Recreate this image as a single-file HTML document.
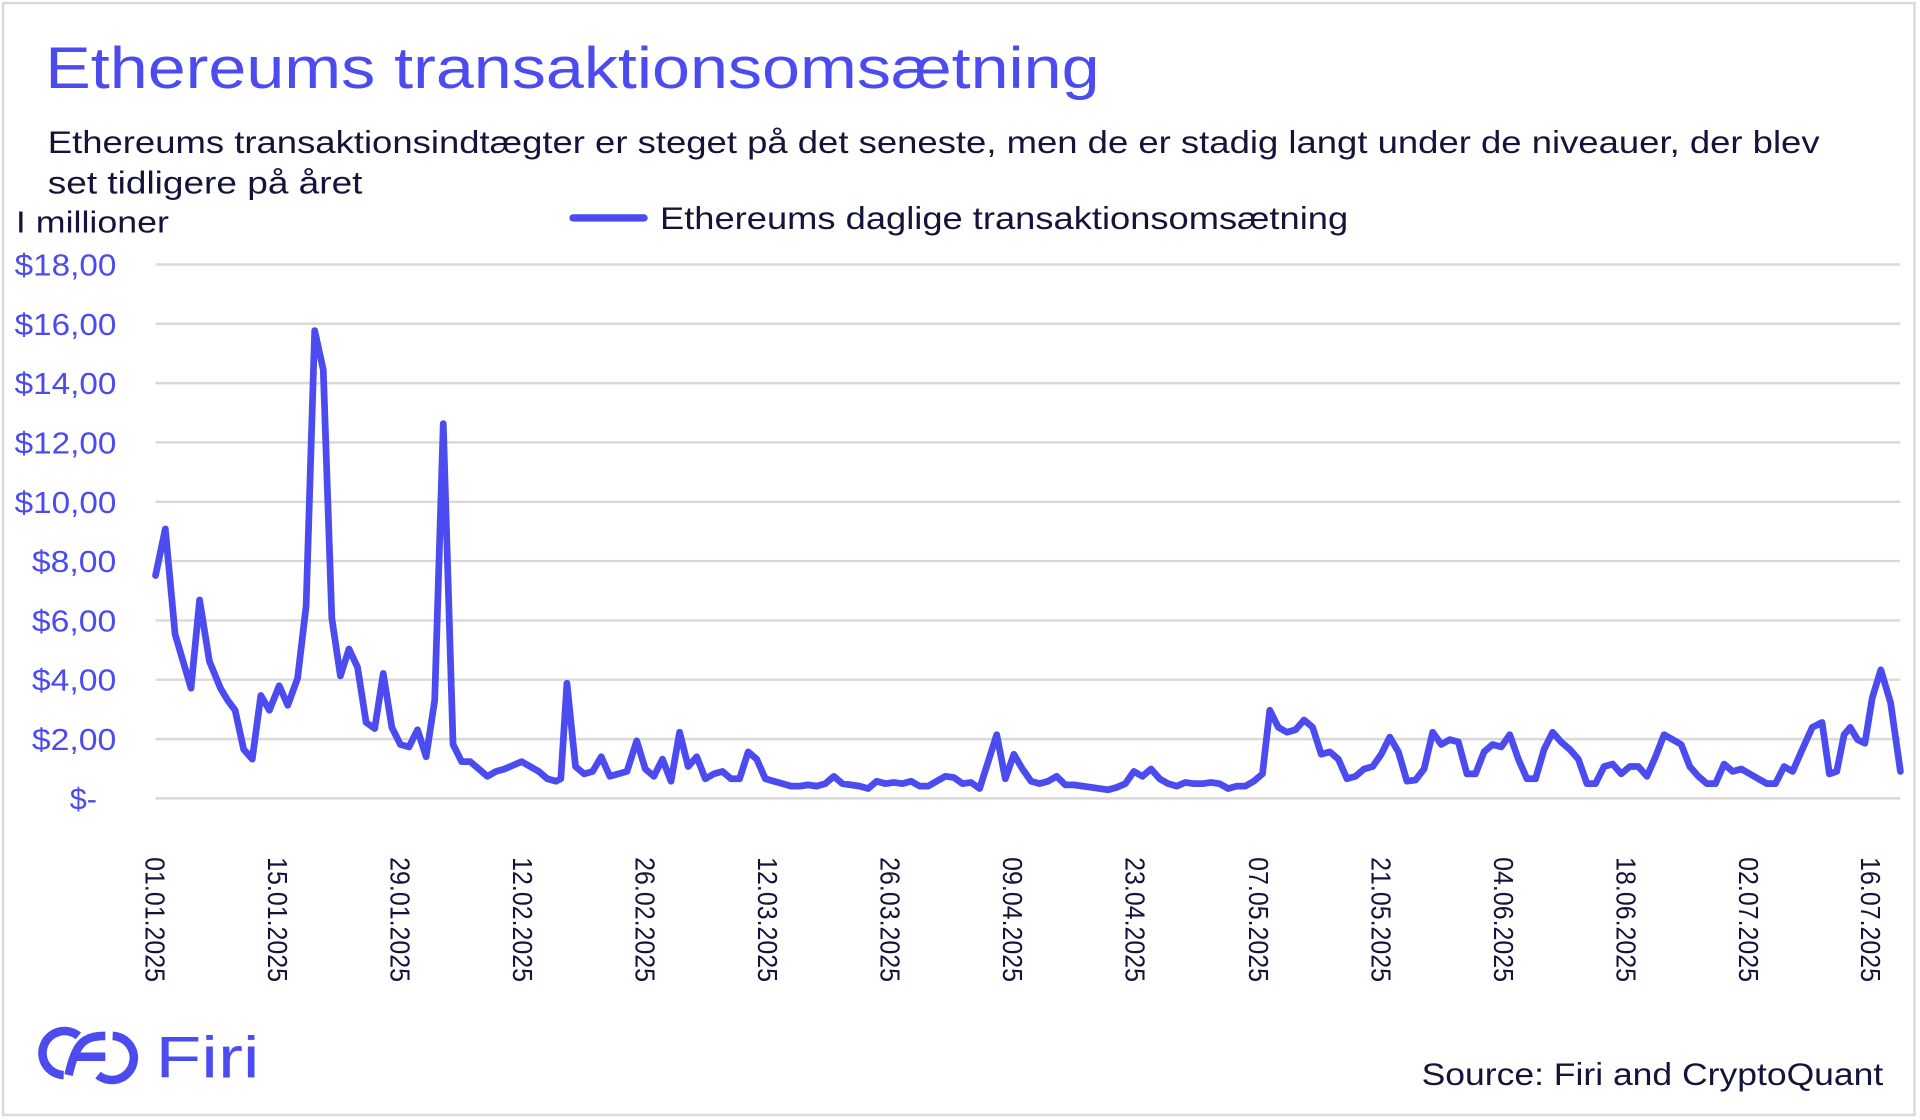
<!DOCTYPE html>
<html><head><meta charset="utf-8"><style>
html,body{margin:0;padding:0;background:#fff;width:1920px;height:1120px;overflow:hidden}
svg{display:block}
text{font-family:"Liberation Sans",sans-serif}
</style></head><body>
<svg width="1920" height="1120" viewBox="0 0 1568 914.67" preserveAspectRatio="none">
<rect x="0" y="0" width="1568" height="914.67" fill="#fff"/>
<rect x="2.5" y="2.5" width="1561" height="908" fill="none" stroke="#d9d9d9" stroke-width="2"/>
<text x="37" y="72" font-size="48" fill="#4b4bf0" textLength="861" lengthAdjust="spacingAndGlyphs">Ethereums transaktionsomsætning</text>
<text x="39" y="125" font-size="26" fill="#14143a" textLength="1447" lengthAdjust="spacingAndGlyphs">Ethereums transaktionsindtægter er steget på det seneste, men de er stadig langt under de niveauer, der blev</text>
<text x="39" y="158" font-size="26" fill="#14143a" textLength="257" lengthAdjust="spacingAndGlyphs">set tidligere på året</text>
<text x="13" y="190" font-size="25" fill="#14143a" textLength="125" lengthAdjust="spacingAndGlyphs">I millioner</text>
<line x1="468" y1="178" x2="526" y2="178" stroke="#4b4bf0" stroke-width="6" stroke-linecap="round"/>
<text x="539" y="187" font-size="26" fill="#14143a" textLength="562" lengthAdjust="spacingAndGlyphs">Ethereums daglige transaktionsomsætning</text>
<g stroke="#d9d9d9" stroke-width="2">
<line x1="127" y1="216" x2="1552" y2="216"/><line x1="127" y1="264.4" x2="1552" y2="264.4"/>
<line x1="127" y1="312.9" x2="1552" y2="312.9"/><line x1="127" y1="361.3" x2="1552" y2="361.3"/>
<line x1="127" y1="409.8" x2="1552" y2="409.8"/><line x1="127" y1="458.2" x2="1552" y2="458.2"/>
<line x1="127" y1="506.7" x2="1552" y2="506.7"/><line x1="127" y1="555.1" x2="1552" y2="555.1"/>
<line x1="127" y1="603.6" x2="1552" y2="603.6"/><line x1="127" y1="652" x2="1552" y2="652"/>
</g>
<g font-size="25" fill="#4b4bf0">
<text x="12" y="225" textLength="83" lengthAdjust="spacingAndGlyphs">$18,00</text><text x="12" y="273.4" textLength="83" lengthAdjust="spacingAndGlyphs">$16,00</text><text x="12" y="321.9" textLength="83" lengthAdjust="spacingAndGlyphs">$14,00</text>
<text x="12" y="370.3" textLength="83" lengthAdjust="spacingAndGlyphs">$12,00</text><text x="12" y="418.8" textLength="83" lengthAdjust="spacingAndGlyphs">$10,00</text><text x="26" y="467.2" textLength="69" lengthAdjust="spacingAndGlyphs">$8,00</text>
<text x="26" y="515.7" textLength="69" lengthAdjust="spacingAndGlyphs">$6,00</text><text x="26" y="564.1" textLength="69" lengthAdjust="spacingAndGlyphs">$4,00</text><text x="26" y="612.6" textLength="69" lengthAdjust="spacingAndGlyphs">$2,00</text>
<text x="57" y="661">$-</text>
</g>
<g font-size="23" fill="#14143a">
<text transform="translate(119,700) rotate(90)" textLength="102" lengthAdjust="spacingAndGlyphs">01.01.2025</text>
<text transform="translate(219,700) rotate(90)" textLength="102" lengthAdjust="spacingAndGlyphs">15.01.2025</text>
<text transform="translate(319,700) rotate(90)" textLength="102" lengthAdjust="spacingAndGlyphs">29.01.2025</text>
<text transform="translate(419,700) rotate(90)" textLength="102" lengthAdjust="spacingAndGlyphs">12.02.2025</text>
<text transform="translate(519,700) rotate(90)" textLength="102" lengthAdjust="spacingAndGlyphs">26.02.2025</text>
<text transform="translate(619,700) rotate(90)" textLength="102" lengthAdjust="spacingAndGlyphs">12.03.2025</text>
<text transform="translate(719,700) rotate(90)" textLength="102" lengthAdjust="spacingAndGlyphs">26.03.2025</text>
<text transform="translate(819,700) rotate(90)" textLength="102" lengthAdjust="spacingAndGlyphs">09.04.2025</text>
<text transform="translate(919,700) rotate(90)" textLength="102" lengthAdjust="spacingAndGlyphs">23.04.2025</text>
<text transform="translate(1020,700) rotate(90)" textLength="102" lengthAdjust="spacingAndGlyphs">07.05.2025</text>
<text transform="translate(1120,700) rotate(90)" textLength="102" lengthAdjust="spacingAndGlyphs">21.05.2025</text>
<text transform="translate(1220,700) rotate(90)" textLength="102" lengthAdjust="spacingAndGlyphs">04.06.2025</text>
<text transform="translate(1320,700) rotate(90)" textLength="102" lengthAdjust="spacingAndGlyphs">18.06.2025</text>
<text transform="translate(1420,700) rotate(90)" textLength="102" lengthAdjust="spacingAndGlyphs">02.07.2025</text>
<text transform="translate(1520,700) rotate(90)" textLength="102" lengthAdjust="spacingAndGlyphs">16.07.2025</text>
</g>
<polyline fill="none" stroke="#4b4bf0" stroke-width="5.5" stroke-linejoin="round" stroke-linecap="round" points="127,470 135,432 143,518 156,562 163,490 171,540 180,562 186,572 192,580 199,612 206,620 213,568 220,580 228,560 235,576 243,554 250,495 257,270 264,302 271,505 278,552 285,530 292,545 299,590 306,595 313,550 320,594 327,608 334,610 341,596 348,618 355,572 362,346 370,608 377,622 384,622 391,628 398,634 405,630 412,628 419,625 426,622 433,626 440,630 447,636 454,638 458,636 463,558 470,626 477,632 484,630 491,618 498,634 505,632 512,630 520,605 527,628 534,634 541,620 548,638 555,598 562,626 569,618 576,636 583,632 590,630 597,636 604,636 611,614 618,620 625,636 632,638 639,640 646,642 653,642 660,641 667,642 674,640 681,634 688,640 695,641 702,642 709,644 716,638 723,640 730,639 737,640 744,638 751,642 758,642 765,638 772,634 779,635 786,640 793,639 800,644 807,622 814,600 821,636 828,616 835,628 842,638 849,640 856,638 863,634 870,641 877,641 884,642 891,643 898,644 905,645 912,643 919,640 926,630 933,634 940,628 947,636 954,640 961,642 968,639 975,640 982,640 989,639 996,640 1003,644 1010,642 1017,642 1024,638 1031,632 1037,580 1044,594 1051,598 1058,596 1065,588 1072,594 1079,616 1086,614 1093,620 1100,636 1107,634 1114,628 1121,626 1128,616 1135,602 1142,614 1149,638 1156,637 1163,628 1170,598 1177,608 1184,604 1191,606 1198,632 1205,632 1212,614 1219,608 1226,610 1233,600 1240,620 1247,636 1254,636 1261,612 1268,598 1275,606 1282,612 1289,620 1296,640 1303,640 1310,626 1317,624 1324,632 1331,626 1338,626 1345,634 1352,618 1359,600 1366,604 1373,608 1380,626 1387,634 1394,640 1401,640 1408,624 1415,630 1422,628 1429,632 1436,636 1443,640 1450,640 1457,626 1464,630 1471,614 1480,594 1488,590 1494,632 1500,630 1506,600 1511,594 1517,604 1523,607 1529,570 1536,547 1544,574 1552,630"/>
<g stroke="#4b4bf0" stroke-width="7" fill="none" stroke-linecap="butt">
<path d="M52,878 A18,18 0 1 1 64,846"/>
<path d="M92,846 A18,18 0 1 1 80,878"/>
<path d="M56,878 C62,852 68,846 86,846"/>
<line x1="60" y1="863" x2="86" y2="863"/>
</g>
<text x="127" y="880" font-size="48" fill="#4b4bf0" textLength="85" lengthAdjust="spacingAndGlyphs">Firi</text>
<text x="1161" y="886" font-size="26" fill="#14143a" textLength="377" lengthAdjust="spacingAndGlyphs">Source: Firi and CryptoQuant</text>
</svg>
</body></html>
